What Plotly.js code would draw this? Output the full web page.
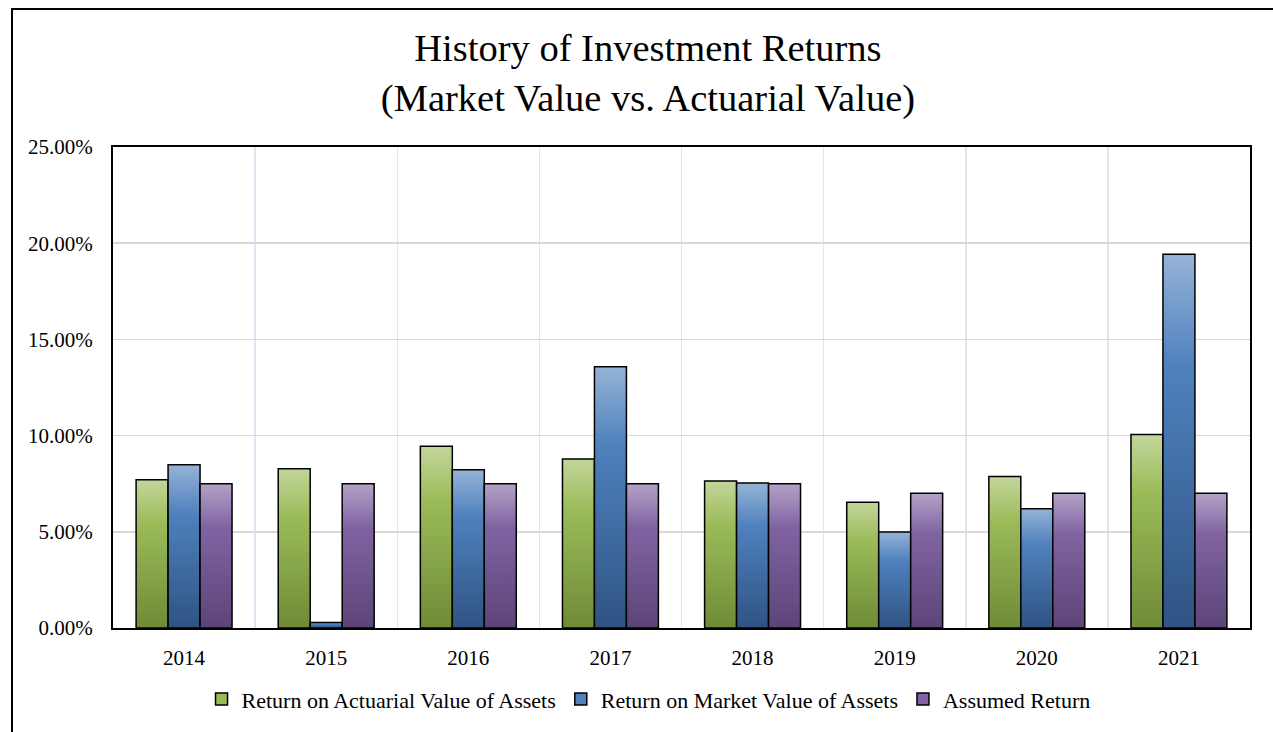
<!DOCTYPE html>
<html>
<head>
<meta charset="utf-8">
<script src="https://cdn.plot.ly/plotly-3.0.1.min.js"></script>
<style>
  html, body { margin: 0; padding: 0; background: #ffffff; overflow: hidden; }
  #frame { position: absolute; left: 11px; top: 8px; width: 1280px; height: 740px;
           border-left: 2px solid #000; border-top: 2px solid #000; box-sizing: border-box; }
  #chart { position: absolute; left: 0; top: 0; width: 1273px; height: 732px; }
</style>
</head>
<body>
<div id="frame"></div>
<div id="chart"></div>
<script>
const years = ['2014', '2015', '2016', '2017', '2018', '2019', '2020', '2021'];
const actuarialReturn = [7.71, 8.28, 9.44, 8.78, 7.64, 6.53, 7.87, 10.06];
const marketReturn = [8.49, 0.29, 8.23, 13.58, 7.54, 4.99, 6.20, 19.42];
const assumedReturn = [7.50, 7.50, 7.50, 7.50, 7.50, 7.00, 7.00, 7.00];
const seriesNames = ['Return on Actuarial Value of Assets', 'Return on Market Value of Assets', 'Assumed Return'];
const yTicks = [0, 5, 10, 15, 20, 25];
const yTickLabels = yTicks.map(v => v.toFixed(2) + '%');

const colors = ['#9bbb59', '#4f81bd', '#8064a2'];
const gradients = [
  ['#c3d69b', '#9bbb59', '#6f8b36'],
  ['#95b3d7', '#4f81bd', '#2f5383'],
  ['#b3a2c7', '#8064a2', '#5c4478']
];
const font = 'Liberation Serif, Times New Roman, serif';

const seriesValues = [actuarialReturn, marketReturn, assumedReturn];
const traces = seriesValues.map((vals, i) => ({
  type: 'bar',
  name: seriesNames[i],
  x: years,
  y: vals,
  marker: { color: colors[i], line: { color: '#000000', width: 1.5 } },
  hoverinfo: 'x+y+name'
}));

const layout = {
  width: 1273,
  height: 732,
  paper_bgcolor: 'rgba(0,0,0,0)',
  plot_bgcolor: '#ffffff',
  margin: { l: 113, r: 23, t: 147, b: 101 },
  font: { family: font, size: 21, color: '#000000' },
  title: {
    text: 'History of Investment Returns<br>(Market Value vs. Actuarial Value)',
    font: { family: font, size: 38.5, color: '#000000' },
    x: 0.509, xanchor: 'center',
    y: 0.917, yanchor: 'top'
  },
  barmode: 'group',
  bargap: 0.325,
  bargroupgap: 0,
  xaxis: {
    type: 'category',
    tickson: 'boundaries',
    showgrid: true,
    gridcolor: '#dce6f2',
    gridwidth: 1.5,
    showline: true,
    linecolor: '#000000',
    linewidth: 2,
    mirror: true,
    ticks: '',
    ticklabelstandoff: 10,
    tickfont: { family: font, size: 21, color: '#000000' }
  },
  yaxis: {
    range: [0, 25],
    tickvals: yTicks,
    ticktext: yTickLabels,
    showgrid: true,
    gridcolor: '#d9d9d9',
    gridwidth: 1.5,
    zeroline: false,
    showline: true,
    linecolor: '#000000',
    linewidth: 2,
    mirror: true,
    ticks: '',
    ticklabelstandoff: 14,
    tickfont: { family: font, size: 21, color: '#000000' }
  },
  legend: {
    orientation: 'h',
    x: 0.471, xanchor: 'center',
    y: -0.148, yanchor: 'middle',
    font: { family: font, size: 22, color: '#000000' },
    itemwidth: 30,
    traceorder: 'normal'
  },
  showlegend: true
};

Plotly.newPlot('chart', traces, layout, { displayModeBar: false, staticPlot: true }).then(function (gd) {
  const svg = gd.querySelector('svg.main-svg');
  const ns = 'http://www.w3.org/2000/svg';
  let defs = svg.querySelector('defs');
  if (!defs) { defs = document.createElementNS(ns, 'defs'); svg.insertBefore(defs, svg.firstChild); }
  gradients.forEach((g, i) => {
    const lg = document.createElementNS(ns, 'linearGradient');
    lg.setAttribute('id', 'barGrad' + i);
    lg.setAttribute('x1', '0'); lg.setAttribute('y1', '0');
    lg.setAttribute('x2', '0'); lg.setAttribute('y2', '1');
    [[0, g[0]], [0.3, g[1]], [1, g[2]]].forEach(([o, c]) => {
      const s = document.createElementNS(ns, 'stop');
      s.setAttribute('offset', o);
      s.setAttribute('stop-color', c);
      lg.appendChild(s);
    });
    defs.appendChild(lg);
  });
  const traceGroups = gd.querySelectorAll('g.barlayer g.trace.bars');
  traceGroups.forEach((tg, i) => {
    tg.querySelectorAll('g.point path').forEach(p => { p.style.fill = 'url(#barGrad' + i + ')'; });
  });
});
</script>
</body>
</html>
